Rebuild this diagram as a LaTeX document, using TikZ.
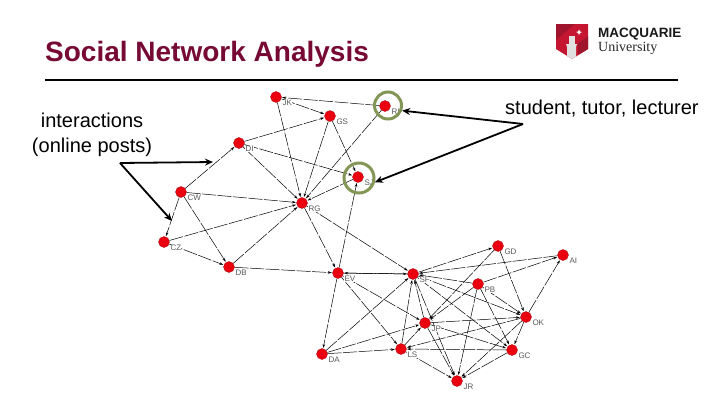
\documentclass[tikz,border=0pt]{standalone}
\usepackage{fontspec}
\setmainfont{Liberation Sans}
\newfontfamily\logoserif{Liberation Serif}
\usepackage{tikz}
\usetikzlibrary{arrows.meta,calc,positioning}
\definecolor{mqmaroon}{RGB}{118,10,52}
\definecolor{mqred}{RGB}{196,22,48}
\definecolor{mqdark}{RGB}{160,20,45}
\definecolor{ringolive}{RGB}{130,150,85}
\definecolor{nodered}{RGB}{235,0,15}

\begin{document}
\begin{tikzpicture}[
      x=1pt, y=-1pt,
      person/.style={circle, draw=nodered!70!black, line width=0.3pt, fill=nodered, minimum size=11pt, inner sep=0pt},
      tag/.style={font=\fontsize{8}{8}\selectfont, text=black!65, fill=white, inner sep=0.3pt, anchor=west},
      link/.style={black, line width=0.5pt, dash pattern=on 14pt off 1.5pt, -{Stealth[length=4pt,width=2.6pt]}, shorten >=0.5pt},
      ring/.style={circle, draw=ringolive, line width=3pt, inner sep=0pt, fill=none},
      pointer/.style={black, line width=1.8pt, -{Stealth[length=8pt,width=7pt]}},
      caption/.style={font=\fontsize{20}{25}\selectfont, inner sep=0pt, align=center}
    ]
      \useasboundingbox (0,0) rectangle (720,405);

      % heading
      \node[font=\bfseries\fontsize{28}{30}\selectfont, text=mqmaroon, inner sep=0pt, anchor=west] (heading) at (45,54) {Social Network Analysis};
      \coordinate (ruleL) at (45,80);
      \coordinate (ruleR) at (678,80);
      \draw[black, line width=1.4pt] (ruleL) -- (ruleR);

      % logo
      \fill[mqred] (556,24) -- (588,24) -- (588,49) -- (572,59) -- (556,49) -- cycle;
      \fill[mqdark] (556,24) -- (575,24) -- (556,40) -- cycle;
      \fill[mqdark] (588,36) -- (588,49) -- (578,55) -- (578,44) -- cycle;
      \fill[black!12] (566,44) -- (577,44) -- (576,47) -- (576,56.5) -- (572,59) -- (567,56) -- (567,47) -- cycle;
      \fill[black!12] (569,36) rectangle (575,44);
      \fill[white] (579,29.5) -- (580,31.5) -- (582,32) -- (580,33) -- (579,35) -- (578,33) -- (576,32) -- (578,31.5) -- cycle;
      \node[font=\bfseries\fontsize{13.5}{15}\selectfont, text=black!90, inner sep=0pt, anchor=west] (logoname) at (598,34.5) {MACQUARIE};
      \node[font=\logoserif\fontsize{14}{14}\selectfont, text=black!85, inner sep=0pt, anchor=west] (logouni) at (598,48) {University};

      % people
      \foreach \who/\x/\y in {JK/276/97, RI/385/106, GS/330/116, DI/239/143, SJ/358/177, CW/181/192, RG/302/203, CZ/164/242, DB/229/267, EV/338/273, SF/413/274, GD/498/246, AI/563/255, PB/478/284, OK/526/317, JP/425/323, GC/512/350, LS/401/349, DA/322/354, JR/457/381} {
        \node[person] (\who) at (\x,\y) {};
      }

      % posts
      \foreach \from/\to in {RI/JK, JK/GS, JK/RG, DI/GS, GS/RG, GS/SJ, RI/RG, DI/SJ, DI/RG, CW/DI, SJ/RG, EV/SJ, CW/RG, CW/CZ, CW/DB, CZ/RG, CZ/DB, DB/RG, DB/EV, RG/EV, RG/SF, EV/SF, SF/EV, EV/DA, EV/LS, EV/JP, SF/GD, AI/SF, PB/SF, SF/OK, SF/GC, JP/SF, LS/SF, DA/SF, SF/JR, GD/JP, GD/OK, PB/AI, OK/AI, PB/JP, PB/OK, PB/GC, PB/JR, JP/OK, JP/GC, LS/JP, DA/JP, JP/JR, OK/LS, OK/GC, OK/JR, GC/LS, GC/JR, LS/JR, DA/LS} {
        \draw[link] (\from) -- (\to);
      }

      % names
      \foreach \who/\x/\y in {JK/276/97, RI/385/106, GS/330/116, DI/239/143, SJ/358/177, CW/181/192, RG/302/203, CZ/164/242, DB/229/267, EV/338/273, SF/413/274, GD/498/246, AI/563/255, PB/478/284, OK/526/317, JP/425/323, GC/512/350, LS/401/349, DA/322/354, JR/457/381} {
        \node[tag] (\who-tag) at (\x+6,\y+6) {\who};
      }

      % highlights
      \node[ring, minimum size=27pt] (ringRI) at (388,105.5) {};
      \node[ring, minimum size=30pt] (ringSJ) at (359,178) {};

      % captions and pointers
      \node[caption] (posts) at (92,134.5) {interactions\\(online posts)};
      \node[caption, anchor=west] (roles) at (505,109) {student, tutor, lecturer};
      \coordinate (postsfork) at (120,163);
      \coordinate (postsA) at (213,162);
      \coordinate (postsB) at (172,221);
      \coordinate (rolesfork) at (523,124);
      \draw[pointer] (postsfork) -- (postsA);
      \draw[pointer] (postsfork) -- (postsB);
      \draw[pointer] (rolesfork) -- (ringRI.-20);
      \draw[pointer] (rolesfork) -- (ringSJ.-15);
    \end{tikzpicture}
\end{document}
